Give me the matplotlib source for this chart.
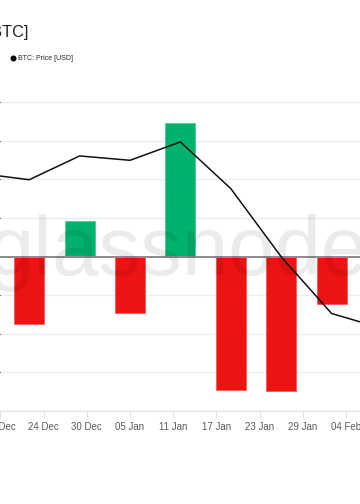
import matplotlib
matplotlib.use('Agg')
import matplotlib.pyplot as plt
import matplotlib.dates as mdates
from matplotlib.lines import Line2D
import numpy as np

# ---- data ----
bar_dates = ['2025-12-22', '2025-12-29', '2026-01-05', '2026-01-12',
             '2026-01-19', '2026-01-26', '2026-02-02']
bar_values = [-3470, 1830, -2930, 6950, -6920, -6980, -2470]

price_dates = ['2025-12-15', '2025-12-22', '2025-12-29', '2026-01-05', '2026-01-12',
               '2026-01-19', '2026-01-26', '2026-02-02', '2026-02-09']
price_values = [88480, 87980, 89830, 89490, 90920, 87290, 81990, 77580, 76430]

tick_dates = ['2025-12-18', '2025-12-24', '2025-12-30', '2026-01-05', '2026-01-11',
              '2026-01-17', '2026-01-23', '2026-01-29', '2026-02-04']

title_text = 'Exchange Net Position Change [BTC]'
legend_label = 'BTC: Price [USD]'
watermark = 'glassnode'

# ---- figure ----
W, H = 360, 504
fig = plt.figure(figsize=(W / 100, H / 100), dpi=100)
font = 'Liberation Sans'

ax_top_px, ax_bot_px = 102.3, 411.0
ax = fig.add_axes([0, (H - ax_bot_px) / H, 1, (ax_bot_px - ax_top_px) / H])

bx = mdates.datestr2num(bar_dates)
px = mdates.datestr2num(price_dates)
tx = mdates.datestr2num(tick_dates)

colors = ['#00b26b' if v >= 0 else '#ee1313' for v in bar_values]
edges = ['#4cc994' if v >= 0 else '#f55a5a' for v in bar_values]
ax.bar(bx, bar_values, width=4.17, color=colors, edgecolor=edges, linewidth=0.6, zorder=2)
ax.axhline(0, color='#8c8c8c', lw=1.4, zorder=3)

d0 = tx[0]
ax.set_xlim(d0 - 0.056, d0 + 49.944)
ax.set_ylim(-8000, 8000)
ax.set_yticks(np.arange(-8000, 8001, 2000))
ax.yaxis.grid(True, color='#ededed', lw=0.9, zorder=0)
ax.set_axisbelow(True)
ax.tick_params(axis='y', left=False, labelleft=False)
ax.set_xticks(tx)
ax.xaxis.set_major_formatter(mdates.DateFormatter('%d %b'))
ax.tick_params(axis='x', length=5, color='#e2e2ea', labelsize=7, labelcolor='#5a5a5a', pad=3)
for lab in ax.get_xticklabels():
    lab.set_fontfamily(font)
for s in ['top', 'left', 'right']:
    ax.spines[s].set_visible(False)
ax.spines['bottom'].set_color('#e2e2ea')

ax2 = ax.twinx()
ax2.plot(px, price_values, color='#111111', lw=1.1, zorder=4)
ax2.set_ylim(70000, 94000)
ax2.set_xlim(ax.get_xlim())
ax2.axis('off')

# title (cropped at the left edge like the reference)
fig.text(28 / W, 1 - 36.7 / H, title_text, ha='right', va='baseline',
         fontsize=11.7, color='#222222', family=font)

# legend
fig.add_artist(Line2D([13 / W], [1 - 58 / H], marker='o', markersize=3.3,
                      color='black', transform=fig.transFigure))
fig.text(18 / W, 1 - 58 / H, legend_label, ha='left', va='center',
         fontsize=5, color='#222222', family=font)

# watermark
fig.text(178 / W, 1 - 275 / H, watermark, ha='center', va='baseline',
         fontsize=60, color='black', alpha=0.08, family=font, zorder=10)

fig.savefig('out.png', dpi=100)
